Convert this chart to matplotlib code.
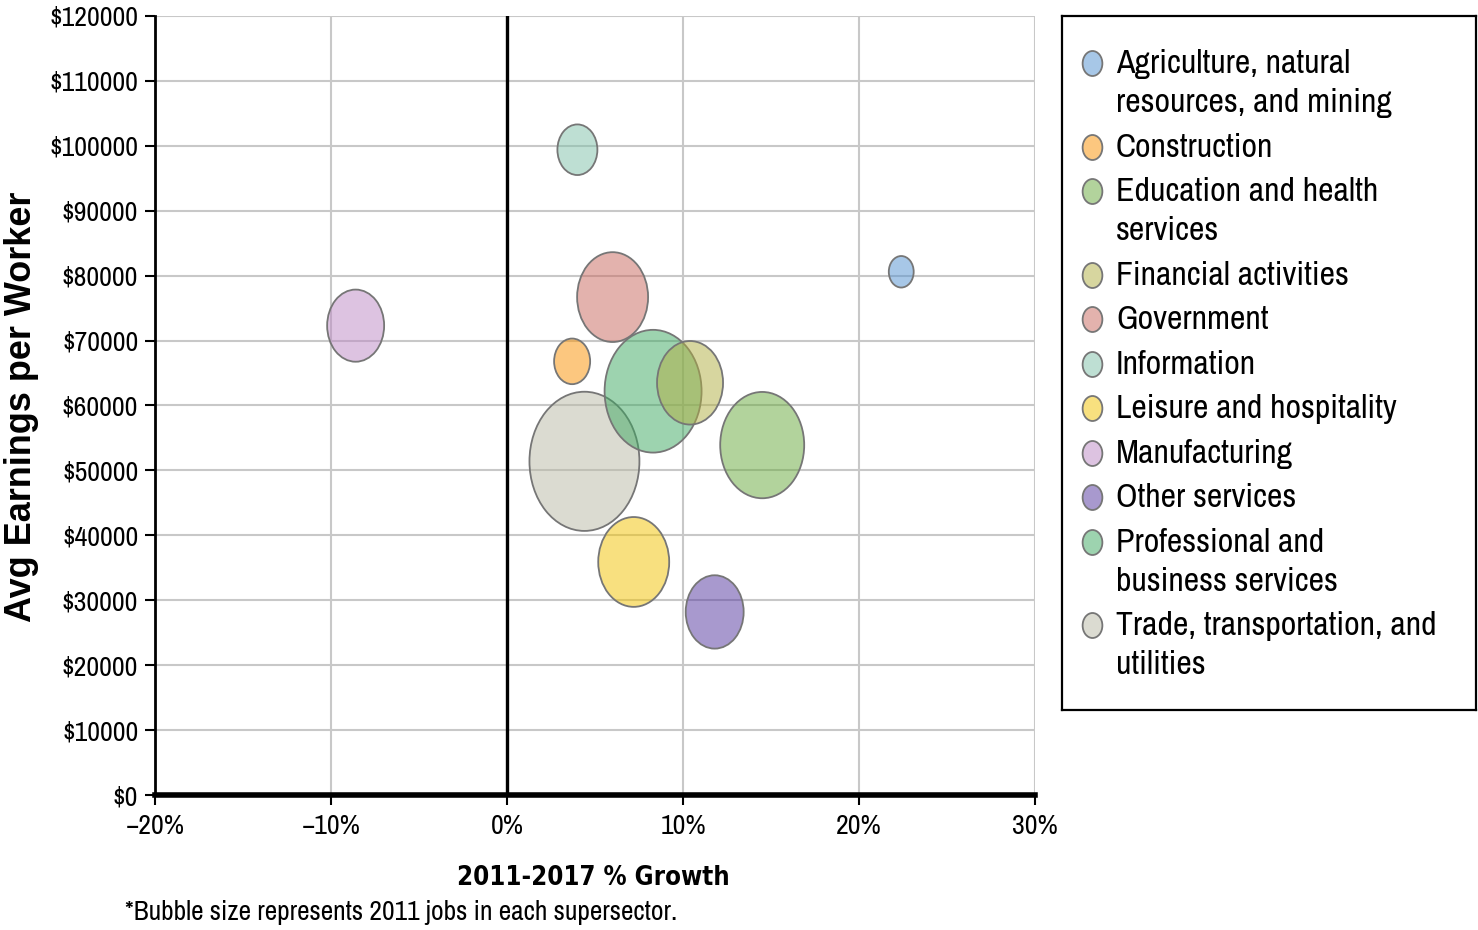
import numpy as np
import matplotlib
matplotlib.use("Agg")
import matplotlib.pyplot as plt
from matplotlib.path import Path
from matplotlib import font_manager as fm
from matplotlib.colors import to_rgba
from matplotlib.ticker import FuncFormatter

# ---------------- data ----------------
categories = [
    "Agriculture, natural resources, and mining",
    "Construction",
    "Education and health services",
    "Financial activities",
    "Government",
    "Information",
    "Leisure and hospitality",
    "Manufacturing",
    "Other services",
    "Professional and business services",
    "Trade, transportation, and utilities",
]
legend_labels = [
    "Agriculture, natural\nresources, and mining",
    "Construction",
    "Education and health\nservices",
    "Financial activities",
    "Government",
    "Information",
    "Leisure and hospitality",
    "Manufacturing",
    "Other services",
    "Professional and\nbusiness services",
    "Trade, transportation, and\nutilities",
]
growth_pct = [22.4, 3.7, 14.5, 10.4, 6.0, 4.0, 7.2, -8.6, 11.8, 8.3, 4.4]
avg_earnings = [80600, 66800, 53900, 63500, 76700, 99400, 35900, 72300, 28200, 62200, 51400]
jobs_2011 = [62, 130, 706, 436, 504, 160, 504, 325, 336, 941, 1210]  # thousands (estimated)
colors = ["#5191d1", "#fb9100", "#67a93b", "#b1af41", "#c9675d", "#7fc1a9",
          "#f3c300", "#bd89c5", "#53359f", "#3da961", "#b9b9a5"]
x_ticks = [-20, -10, 0, 10, 20, 30]
y_ticks = list(range(0, 120001, 10000))

# ---------------- fonts: prefer a narrow face ----------------
entries = fm.fontManager.ttflist
names = {f.name for f in entries}


def wnum(w):
    if isinstance(w, (int, float)):
        return w
    return fm.weight_dict.get(str(w), 400)


def is_narrow(f):
    st = f.stretch
    if isinstance(st, str):
        st_ok = st in ("condensed", "semi-condensed", "extra-condensed", "ultra-condensed")
    else:
        st_ok = st < 500
    return ("Condensed" in f.name) or ("Narrow" in f.name) or st_ok


narrow_kw = None
if "Liberation Sans Narrow" in names:
    narrow_kw = dict(family=["Liberation Sans Narrow", "DejaVu Sans"])
else:
    for f in entries:
        if "Condensed" in f.name or "Narrow" in f.name:
            narrow_kw = dict(family=[f.name, "DejaVu Sans"])
            break
if narrow_kw is None:
    cond = [f for f in entries if is_narrow(f)]
    if cond:
        narrow_kw = dict(family=[cond[0].name, "DejaVu Sans"], stretch="condensed")
    else:
        narrow_kw = dict(family=["Liberation Sans", "DejaVu Sans"])
plt.rcParams["font.family"] = narrow_kw["family"]
if "stretch" in narrow_kw:
    plt.rcParams["font.stretch"] = narrow_kw["stretch"]

# bold narrow face for the x-axis title
bold_narrow = [f for f in entries if is_narrow(f) and wnum(f.weight) >= 600]
if bold_narrow:
    bf = bold_narrow[0]
    bold_kw = dict(fontproperties=fm.FontProperties(fname=bf.fname))
else:
    bold_kw = dict(family=["Liberation Sans", "DejaVu Sans"], fontweight="bold", fontstretch="normal")

W, H = 1478, 930
fig = plt.figure(figsize=(W / 100, H / 100), dpi=100)
renderer = fig.canvas.get_renderer()


def fit(text, target_px, **kw):
    if "fontproperties" in kw:
        fp = kw["fontproperties"].copy()
        fp.set_size(20)
        t = fig.text(0, 0, text, fontproperties=fp)
    else:
        t = fig.text(0, 0, text, fontsize=20, **kw)
    w = t.get_window_extent(renderer).width
    t.remove()
    return 20 * target_px / w


def fx(px):
    return px / W


def fy(py):
    return 1 - py / H


tick_fs = min(fit("$120000", 89), 21)
leg_fs = min(fit("Agriculture, natural", 234), 25)
xlab_fs = min(fit("2011-2017 % Growth", 272, **bold_kw), 25)
foot_fs = min(fit("*Bubble size represents 2011 jobs in each supersector.", 552), 20)
ylab_fs = fit("Avg Earnings per Worker", 430, fontweight="bold", family=["Liberation Sans", "DejaVu Sans"],
              fontstretch="normal")

ax = fig.add_axes([fx(155), fy(795), fx(1035) - fx(155), fy(16) - fy(795)])

# ellipse marker (vertically stretched circle)
ASPECT = 0.79
circ = Path.unit_circle()
ell = Path(circ.vertices * np.array([ASPECT, 1.0]), circ.codes)

ALPHA = 0.5
face = [to_rgba(c, ALPHA) for c in colors]
SIZE_K = 8.3
order = np.argsort(jobs_2011)[::-1]
ax.scatter(np.array(growth_pct)[order], np.array(avg_earnings)[order],
           s=np.array(jobs_2011)[order] * SIZE_K, marker=ell,
           facecolors=[face[i] for i in order], edgecolors="#767676",
           linewidths=1.3, zorder=3)

ax.axvline(0, color="black", lw=2.4, zorder=4)

ax.set_xlim(-20, 30)
ax.set_ylim(0, 120000)
ax.set_xticks(x_ticks)
ax.set_yticks(y_ticks)
ax.xaxis.set_major_formatter(FuncFormatter(lambda v, p: ("\u2212" if v < 0 else "") + "%d%%" % abs(v)))
ax.yaxis.set_major_formatter(FuncFormatter(lambda v, p: "$%d" % v))
ax.grid(True, color="#c8c8c8", lw=1.5)
ax.set_axisbelow(True)
for s in ["top", "right"]:
    ax.spines[s].set_visible(False)
ax.spines["left"].set_linewidth(2.0)
ax.spines["bottom"].set_linewidth(4.0)
ax.spines["bottom"].set_zorder(5)
ax.tick_params(axis="both", direction="out", length=7, width=1.5, labelsize=tick_fs, color="black")
ax.tick_params(axis="y", pad=5)
ax.tick_params(axis="x", pad=7)

if "fontproperties" in bold_kw:
    fpx = bold_kw["fontproperties"].copy()
    fpx.set_size(xlab_fs)
    ax.set_xlabel("2011-2017 % Growth", fontproperties=fpx)
else:
    ax.set_xlabel("2011-2017 % Growth", fontsize=xlab_fs, **bold_kw)
ax.xaxis.set_label_coords((593 - 155) / 880, (795 - 878) / 779)
ax.xaxis.label.set_va("center")
ax.set_ylabel("Avg Earnings per Worker", fontsize=ylab_fs, fontweight="bold",
              family=["Liberation Sans", "DejaVu Sans"], fontstretch="normal")
ax.yaxis.set_label_coords((22 - 155) / 880, (795 - 407) / 779)
ax.yaxis.label.set_va("center")

fig.text(fx(125), fy(912), "*Bubble size represents 2011 jobs in each supersector.",
         fontsize=foot_fs, ha="left", va="center")

# ---------------- legend box ----------------
L, T, R, B = 1062, 16, 1476, 710
lax = fig.add_axes([fx(L), fy(B), fx(R) - fx(L), fy(T) - fy(B)])
lax.set_xlim(0, R - L)
lax.set_ylim(B - T, 0)
lax.set_xticks([])
lax.set_yticks([])
for s in lax.spines.values():
    s.set_linewidth(1.6)
    s.set_color("black")

base = 57.0
LINE = 39.0
STEP = 44.5
for lab, c in zip(legend_labels, face):
    lines = lab.split("\n")
    lax.scatter([30], [base - 10], s=18 ** 2, marker=ell, facecolors=[c],
                edgecolors="#767676", linewidths=1.3, clip_on=False)
    for i, ln in enumerate(lines):
        lax.text(54, base + i * LINE, ln, fontsize=leg_fs, ha="left", va="baseline")
    base += (len(lines) - 1) * LINE + STEP

fig.savefig("out.png", dpi=100)
